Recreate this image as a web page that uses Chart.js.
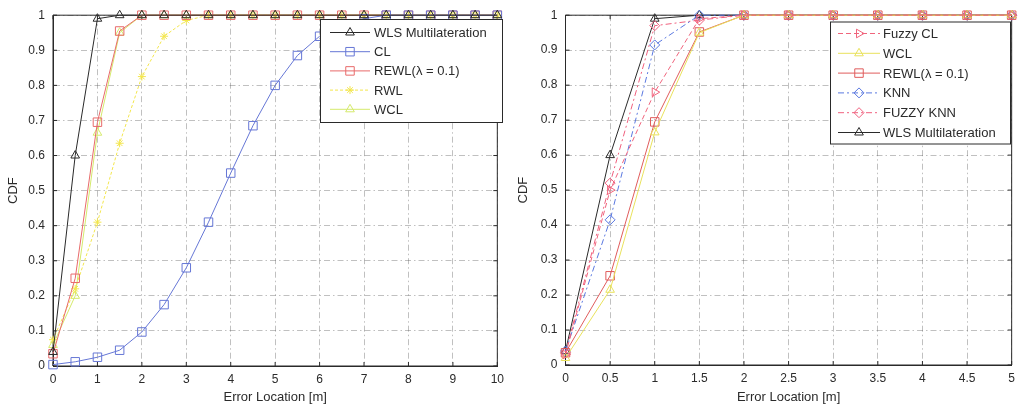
<!DOCTYPE html>
<html>
<head>
<meta charset="utf-8">
<script src="https://cdn.jsdelivr.net/npm/chart.js@4/dist/chart.umd.min.js"></script>
<style>
  html, body { margin: 0; padding: 0; background: #fff; }
  #wrap { position: relative; width: 1021px; height: 405px; background: #fff; }
  .pane { position: absolute; top: 0; height: 405px; }
  #leftPane { left: 0; width: 510px; }
  #rightPane { left: 510px; width: 511px; }
</style>
</head>
<body>
<div id="wrap">
  <div class="pane" id="leftPane"><canvas id="cdfLeft" width="510" height="405"></canvas></div>
  <div class="pane" id="rightPane"><canvas id="cdfRight" width="511" height="405"></canvas></div>
</div>
<script>
// ---- Left panel: error location 0..10 m, sampled every 0.5 m ----
const xLeft = [0, 0.5, 1, 1.5, 2, 2.5, 3, 3.5, 4, 4.5, 5, 5.5, 6, 6.5, 7, 7.5, 8, 8.5, 9, 9.5, 10];
const wlsLeft  = [0.04, 0.60, 0.99, 1, 1, 1, 1, 1, 1, 1, 1, 1, 1, 1, 1, 1, 1, 1, 1, 1, 1];
const clLeft   = [0.004, 0.012, 0.025, 0.045, 0.097, 0.175, 0.28, 0.41, 0.55, 0.685, 0.80, 0.885, 0.94, 0.975, 0.99, 1, 1, 1, 1, 1, 1];
const rewlLeft = [0.035, 0.25, 0.695, 0.955, 1, 1, 1, 1, 1, 1, 1, 1, 1, 1, 1, 1, 1, 1, 1, 1, 1];
const rwlLeft  = [0.075, 0.22, 0.41, 0.635, 0.825, 0.94, 0.985, 1, 1, 1, 1, 1, 1, 1, 1, 1, 1, 1, 1, 1, 1];
const wclLeft  = [0.06, 0.20, 0.665, 0.95, 1, 1, 1, 1, 1, 1, 1, 1, 1, 1, 1, 1, 1, 1, 1, 1, 1];
const xTicksLeft = ['0', '1', '2', '3', '4', '5', '6', '7', '8', '9', '10'];

// ---- Right panel: error location 0..5 m, sampled every 0.5 m ----
const xRight = [0, 0.5, 1, 1.5, 2, 2.5, 3, 3.5, 4, 4.5, 5];
const fuzzyClRight  = [0.03, 0.50, 0.78, 0.99, 1, 1, 1, 1, 1, 1, 1];
const wclRight      = [0.02, 0.215, 0.665, 0.95, 1, 1, 1, 1, 1, 1, 1];
const rewlRight     = [0.035, 0.255, 0.695, 0.952, 1, 1, 1, 1, 1, 1, 1];
const knnRight      = [0.04, 0.415, 0.915, 1, 1, 1, 1, 1, 1, 1, 1];
const fuzzyKnnRight = [0.035, 0.52, 0.97, 0.986, 1, 1, 1, 1, 1, 1, 1];
const wlsRight      = [0.04, 0.60, 0.99, 1, 1, 1, 1, 1, 1, 1, 1];
const xTicksRight = ['0', '0.5', '1', '1.5', '2', '2.5', '3', '3.5', '4', '4.5', '5'];

const yTicks = ['0', '0.1', '0.2', '0.3', '0.4', '0.5', '0.6', '0.7', '0.8', '0.9', '1'];

const FONT = "'Liberation Sans', Arial, Helvetica, sans-serif";
const TEXT = '#2b2b2b';
const GRID = 'rgba(90,90,90,0.38)';

function pts(xs, ys) { return xs.map((x, i) => ({ x: x, y: ys[i] })); }

function series(label, xs, ys, color, style) {
  return Object.assign({
    label: label,
    data: pts(xs, ys),
    borderColor: color,
    pointBorderColor: color,
    pointBackgroundColor: 'rgba(0,0,0,0)',
    borderWidth: 1,
    pointBorderWidth: 1,
    pointRadius: 5,
    pointHoverRadius: 5,
    tension: 0,
    clip: false
  }, style || {});
}

// Solid axes box plus inward-pointing tick marks on all four sides
const axesBox = {
  id: 'axesBox',
  beforeDatasetsDraw(chart) {
    const { ctx, chartArea: a, scales } = chart;
    ctx.save();
    ctx.strokeStyle = '#2a2a2a';
    ctx.lineWidth = 1;
    ctx.beginPath();
    ctx.rect(a.left, a.top, a.right - a.left, a.bottom - a.top);
    ctx.stroke();
    const len = 4;
    ctx.beginPath();
    scales.x.ticks.forEach(t => {
      const px = scales.x.getPixelForValue(t.value);
      ctx.moveTo(px, a.bottom); ctx.lineTo(px, a.bottom - len);
      ctx.moveTo(px, a.top); ctx.lineTo(px, a.top + len);
    });
    scales.y.ticks.forEach(t => {
      const py = scales.y.getPixelForValue(t.value);
      ctx.moveTo(a.left, py); ctx.lineTo(a.left + len, py);
      ctx.moveTo(a.right, py); ctx.lineTo(a.right - len, py);
    });
    ctx.stroke();
    ctx.restore();
  }
};

// Boxed legend drawn inside the plot area, line sample with marker then label
const boxLegend = {
  id: 'boxLegend',
  afterDatasetsDraw(chart, args, o) {
    const ctx = chart.ctx;
    ctx.save();
    ctx.fillStyle = '#fff';
    ctx.fillRect(o.x, o.y, o.w, o.h);
    ctx.strokeStyle = '#2a2a2a';
    ctx.lineWidth = 1;
    ctx.strokeRect(o.x + 0.5, o.y + 0.5, o.w, o.h);
    ctx.font = '13px ' + FONT;
    ctx.textBaseline = 'middle';
    ctx.textAlign = 'left';
    chart.data.datasets.forEach((ds, i) => {
      const cy = o.firstRow + i * o.rowStep;
      ctx.save();
      ctx.strokeStyle = ds.borderColor;
      ctx.lineWidth = ds.borderWidth;
      ctx.setLineDash(ds.borderDash || []);
      ctx.beginPath();
      ctx.moveTo(o.lineX0, cy);
      ctx.lineTo(o.lineX1, cy);
      ctx.stroke();
      ctx.restore();
      ctx.save();
      ctx.strokeStyle = ds.pointBorderColor;
      ctx.fillStyle = ds.pointBackgroundColor;
      ctx.lineWidth = 1;
      Chart.helpers.drawPoint(ctx, {
        pointStyle: ds.pointStyle,
        rotation: ds.pointRotation || 0,
        radius: ds.pointRadius,
        borderWidth: 1
      }, (o.lineX0 + o.lineX1) / 2, cy);
      ctx.restore();
      ctx.fillStyle = TEXT;
      ctx.fillText(ds.label, o.textX, cy + 1);
    });
    ctx.restore();
  }
};

function makeOptions(cfg) {
  return {
    responsive: false,
    animation: false,
    events: [],
    layout: { padding: { left: 0, right: cfg.padRight, top: cfg.padTop, bottom: 0 } },
    plugins: {
      legend: { display: false },
      tooltip: { enabled: false },
      boxLegend: cfg.legend
    },
    scales: {
      x: {
        type: 'linear',
        min: cfg.xMin, max: cfg.xMax,
        afterFit: s => { s.height = cfg.xAxisHeight; },
        ticks: {
          stepSize: cfg.xStep,
          autoSkip: false,
          maxRotation: 0,
          padding: 6,
          color: TEXT,
          font: { family: FONT, size: 12 },
          callback: (v, i) => cfg.xLabels[i]
        },
        grid: { color: GRID, lineWidth: 1, drawTicks: false },
        border: { display: true, color: '#2a2a2a', dash: [6, 3, 1.5, 3] },
        title: {
          display: true, text: 'Error Location [m]', color: TEXT,
          font: { family: FONT, size: 13 }, padding: { top: 0, bottom: 0 }
        }
      },
      y: {
        type: 'linear',
        min: 0, max: 1,
        afterFit: s => { s.width = cfg.yAxisWidth; },
        ticks: {
          stepSize: 0.1,
          autoSkip: false,
          padding: 8,
          color: TEXT,
          font: { family: FONT, size: 12 },
          callback: (v, i) => yTicks[i]
        },
        grid: { color: GRID, lineWidth: 1, drawTicks: false },
        border: { display: true, color: '#2a2a2a', dash: [6, 3, 1.5, 3] },
        title: {
          display: true, text: 'CDF', color: TEXT,
          font: { family: FONT, size: 13 }, padding: { top: 6, bottom: 0 }
        }
      }
    }
  };
}

new Chart(document.getElementById('cdfLeft'), {
  type: 'line',
  data: {
    datasets: [
      series('WLS Multilateration', xLeft, wlsLeft, '#2a2a2a', { pointStyle: 'triangle', pointRadius: 5 }),
      series('CL', xLeft, clLeft, '#6677d6', { pointStyle: 'rect', pointRadius: 6 }),
      series('REWL(\u03bb = 0.1)', xLeft, rewlLeft, '#e86a6a', { pointStyle: 'rect', pointRadius: 6 }),
      series('RWL', xLeft, rwlLeft, '#f3e64c', { pointStyle: 'star', pointRadius: 4, borderDash: [3, 2] }),
      series('WCL', xLeft, wclLeft, '#d5ea6c', { pointStyle: 'triangle', pointRadius: 5 })
    ]
  },
  options: makeOptions({
    xMin: 0, xMax: 10, xStep: 1, xLabels: xTicksLeft,
    padRight: 8, padTop: 12.5, xAxisHeight: 39, yAxisWidth: 53,
    legend: { x: 320, y: 19, w: 182, h: 103, firstRow: 32.5, rowStep: 19.2, lineX0: 330, lineX1: 370, textX: 374 }
  }),
  plugins: [axesBox, boxLegend]
});

new Chart(document.getElementById('cdfRight'), {
  type: 'line',
  data: {
    datasets: [
      series('Fuzzy CL', xRight, fuzzyClRight, '#f0647c', { pointStyle: 'triangle', pointRotation: 90, pointRadius: 5, borderDash: [5, 3] }),
      series('WCL', xRight, wclRight, '#e9e25c', { pointStyle: 'triangle', pointRadius: 5 }),
      series('REWL(\u03bb = 0.1)', xRight, rewlRight, '#e05c5c', { pointStyle: 'rect', pointRadius: 6 }),
      series('KNN', xRight, knnRight, '#5a78e0', { pointStyle: 'rectRot', pointRadius: 5, borderDash: [6, 3, 2, 3] }),
      series('FUZZY KNN', xRight, fuzzyKnnRight, '#f0607e', { pointStyle: 'rectRot', pointRadius: 5, borderDash: [6, 3, 2, 3] }),
      series('WLS Multilateration', xRight, wlsRight, '#2a2a2a', { pointStyle: 'triangle', pointRadius: 5 })
    ]
  },
  options: makeOptions({
    xMin: 0, xMax: 5, xStep: 0.5, xLabels: xTicksRight,
    padRight: 6.5, padTop: 13.3, xAxisHeight: 40, yAxisWidth: 55.5,
    legend: { x: 320, y: 21.5, w: 180, h: 122, firstRow: 33.5, rowStep: 19.8, lineX0: 328, lineX1: 370, textX: 373 }
  }),
  plugins: [axesBox, boxLegend]
});
</script>
</body>
</html>
